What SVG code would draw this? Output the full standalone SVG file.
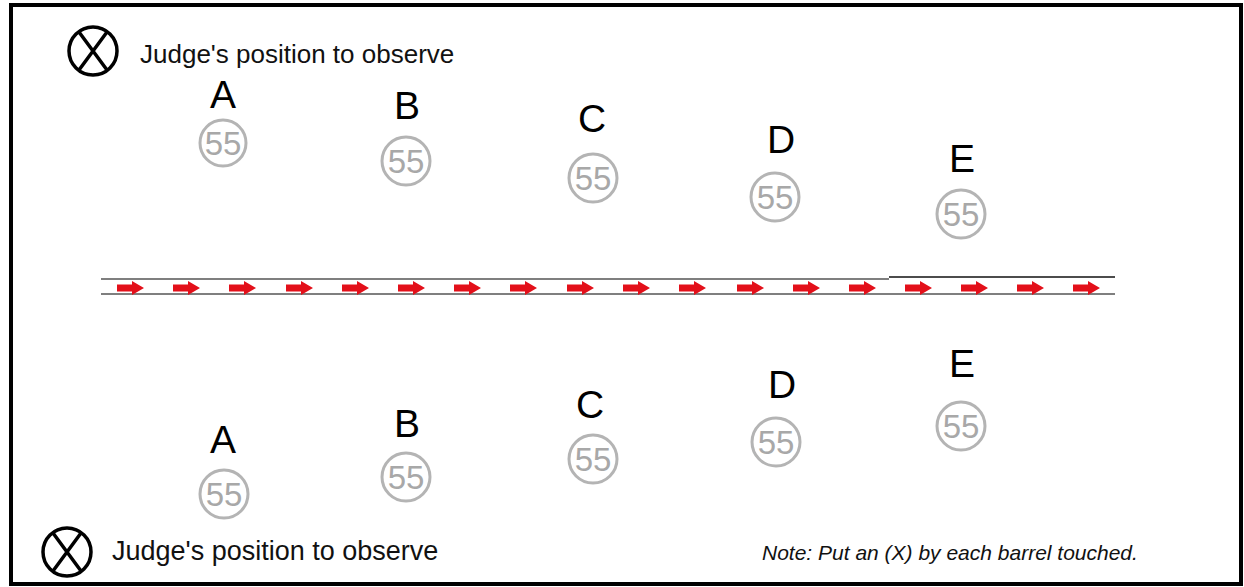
<svg xmlns="http://www.w3.org/2000/svg" xmlns:xlink="http://www.w3.org/1999/xlink" width="1244" height="587" viewBox="0 0 1244 587">
<style>
.lbl{font-family:"Liberation Sans",Arial,sans-serif;font-size:39px;fill:#000;text-anchor:middle}
.num{font-family:"Liberation Sans",Arial,sans-serif;font-size:33px;fill:#a8a8a8;text-anchor:middle}
.bar{fill:none;stroke:#b4b4b4;stroke-width:3}
.judge{fill:none;stroke:#000;stroke-width:3.5}
.jt{font-family:"Liberation Sans",Arial,sans-serif;font-size:26px;fill:#111}
.note{font-family:"Liberation Sans",Arial,sans-serif;font-size:21px;font-style:italic;fill:#111}
.ln{stroke:#555;stroke-width:1.5}
</style>
<defs>
<path id="arr" d="M0,284.5 H15 V281 L27,288 L15,295 V291.5 H0 Z" fill="#e3101a"/>
</defs>
<rect x="0" y="0" width="1244" height="587" fill="#fff"/>
<rect x="11" y="5" width="1230" height="579" fill="none" stroke="#000" stroke-width="4"/>
<g id="judge-top">
<circle class="judge" cx="93" cy="51" r="24"/>
<path class="judge" d="M79,32 L107,70 M107,32 L79,70"/>
<text class="jt" x="140" y="63">Judge's position to observe</text>
</g>
<g id="judge-bottom">
<circle class="judge" cx="67" cy="552" r="24"/>
<path class="judge" d="M53,533 L81,571 M81,533 L53,571"/>
<text class="jt" x="112" y="560" style="font-size:27px">Judge's position to observe</text>
</g>
<g id="top-A"><text class="lbl" x="223" y="108">A</text><circle class="bar" cx="223" cy="143" r="23"/><text class="num" x="223" y="155">55</text></g>
<g id="top-B"><text class="lbl" x="407" y="119">B</text><circle class="bar" cx="406" cy="161" r="24"/><text class="num" x="406" y="173">55</text></g>
<g id="top-C"><text class="lbl" x="592" y="132">C</text><circle class="bar" cx="593" cy="178" r="24"/><text class="num" x="593" y="190">55</text></g>
<g id="top-D"><text class="lbl" x="781" y="153">D</text><circle class="bar" cx="775" cy="197" r="24"/><text class="num" x="775" y="209">55</text></g>
<g id="top-E"><text class="lbl" x="962" y="172">E</text><circle class="bar" cx="961" cy="214" r="24"/><text class="num" x="961" y="226">55</text></g>
<g id="bot-A"><text class="lbl" x="223" y="453">A</text><circle class="bar" cx="224" cy="494" r="24"/><text class="num" x="224" y="506">55</text></g>
<g id="bot-B"><text class="lbl" x="407" y="437">B</text><circle class="bar" cx="406" cy="477" r="24"/><text class="num" x="406" y="489">55</text></g>
<g id="bot-C"><text class="lbl" x="590" y="418">C</text><circle class="bar" cx="593" cy="459" r="24"/><text class="num" x="593" y="471">55</text></g>
<g id="bot-D"><text class="lbl" x="782" y="398">D</text><circle class="bar" cx="776" cy="442" r="24"/><text class="num" x="776" y="454">55</text></g>
<g id="bot-E"><text class="lbl" x="962" y="377">E</text><circle class="bar" cx="961" cy="426" r="24"/><text class="num" x="961" y="438">55</text></g>
<g id="lane">
<line class="ln" x1="101" y1="279" x2="889" y2="279"/>
<line x1="889" y1="277" x2="1115" y2="277" stroke="#111" stroke-width="1.5"/>
<line class="ln" x1="101" y1="294" x2="1115" y2="294"/>
<use xlink:href="#arr" x="117"/>
<use xlink:href="#arr" x="173"/>
<use xlink:href="#arr" x="229"/>
<use xlink:href="#arr" x="286"/>
<use xlink:href="#arr" x="342"/>
<use xlink:href="#arr" x="398"/>
<use xlink:href="#arr" x="454"/>
<use xlink:href="#arr" x="510"/>
<use xlink:href="#arr" x="567"/>
<use xlink:href="#arr" x="623"/>
<use xlink:href="#arr" x="679"/>
<use xlink:href="#arr" x="737"/>
<use xlink:href="#arr" x="793"/>
<use xlink:href="#arr" x="849"/>
<use xlink:href="#arr" x="905"/>
<use xlink:href="#arr" x="961"/>
<use xlink:href="#arr" x="1017"/>
<use xlink:href="#arr" x="1073"/>
</g>
<text class="note" x="762" y="560">Note: Put an (X) by each barrel touched.</text>
</svg>
